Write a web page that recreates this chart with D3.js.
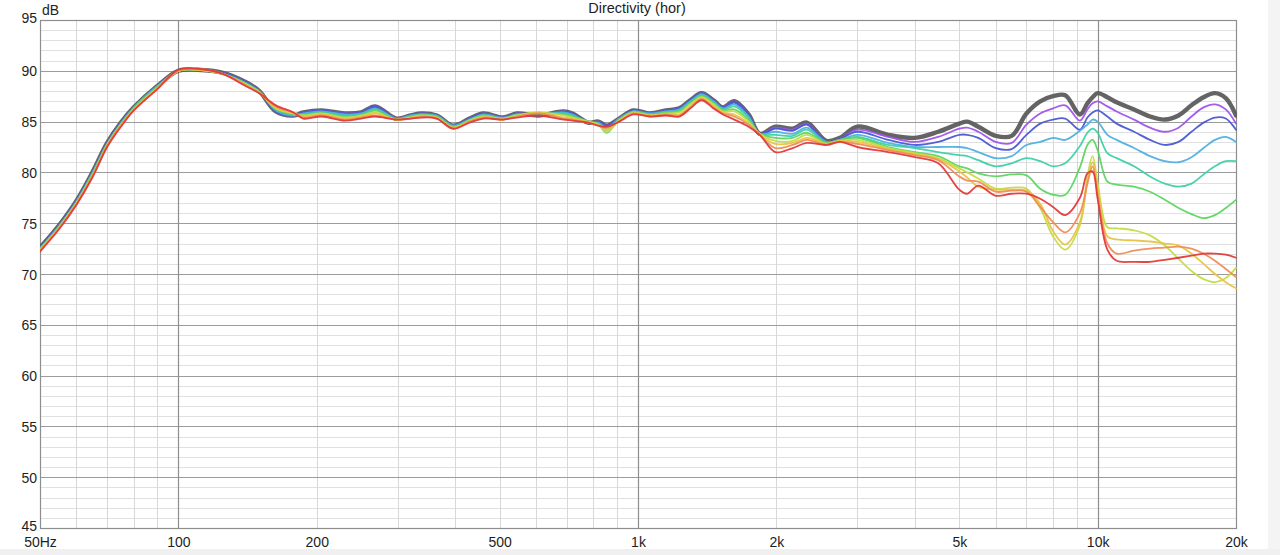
<!DOCTYPE html>
<html><head><meta charset="utf-8">
<script src="https://cdn.jsdelivr.net/npm/d3@7"></script>
<style>
body{margin:0;background:#fff;}
svg{display:block;font-family:"Liberation Sans",Arial,sans-serif;}
</style>
</head><body>
<svg id="chart" width="1280" height="555"></svg>
<script>
// ---- data ----
const freqs=[50,55,60,65,70,75,80,90,100,110, 125,140,150,163,178,187,205,230,250,268,
 298,320,338,365,396,430,461,509,545,607, 688,720,779,820,855,910,977,1062,1150,1230,
 1300,1375,1460,1530,1620,1740,1840,1990,2170,2330, 2570,2750,3000,3500,4000,4500,5000,5200,5500,6000,
 6500,7000,7500,8000,8500,9150,9500,9750,10000,10500, 11000,12000,13000,14000,15000,16000,17000,18000,19000,20000];

const angle0 =[72.6,74.8,77.2,80.0,82.9,84.9,86.4,88.5,90.0,90.1, 89.8,88.9,88.0,86.0,85.6,85.9,86.1,85.8,85.9,86.5,
 85.3,85.6,85.8,85.6,84.6,85.3,85.8,85.4,85.8,85.6, 86.0,85.8,84.9,85.0,84.6,85.3,86.1,85.8,86.1,86.3,
 87.1,87.8,87.1,86.4,87.0,85.7,83.8,84.5,84.3,84.9, 83.1,83.4,84.5,83.7,83.4,84.0,84.8,85.0,84.5,83.6,
 83.6,85.8,87.0,87.5,87.6,85.7,86.8,87.4,87.8,87.4, 86.9,86.2,85.5,85.2,85.6,86.6,87.4,87.8,87.3,85.6];
const angle10=[72.6,74.8,77.2,80.0,82.9,84.9,86.4,88.5,90.0,90.1, 89.8,88.9,88.0,86.0,85.6,85.9,86.1,85.8,85.9,86.5,
 85.3,85.6,85.8,85.6,84.6,85.3,85.8,85.4,85.8,85.6, 86.0,85.8,84.9,85.0,84.6,85.3,86.1,85.8,86.1,86.3,
 87.1,87.8,87.1,86.4,87.0,85.7,83.8,84.4,84.2,84.8, 83.0,83.3,84.2,83.5,83.0,83.5,84.3,84.4,84.0,83.0,
 82.9,84.7,85.8,86.3,86.6,85.1,86.2,86.8,87.0,86.5, 86.0,85.2,84.4,84.0,84.4,85.5,86.4,86.7,86.2,84.8];
const angle20=[72.6,74.8,77.2,80.0,82.9,84.9,86.4,88.5,90.0,90.1, 89.8,88.9,88.0,86.0,85.6,85.9,86.1,85.8,85.9,86.5,
 85.3,85.6,85.8,85.6,84.6,85.3,85.8,85.4,85.8,85.6, 86.0,85.8,84.9,85.0,84.6,85.3,86.1,85.8,86.1,86.3,
 87.1,87.8,87.1,86.4,87.0,85.7,83.8,84.3,84.1,84.7, 83.0,83.3,84.0,83.2,82.7,83.0,83.7,83.7,83.4,82.4,
 82.3,83.7,84.8,85.2,85.3,84.2,85.4,85.9,86.1,85.5, 84.8,84.0,83.2,82.7,83.0,84.0,84.9,85.4,85.3,84.2];
const angle30=[72.5,74.7,77.1,79.9,82.8,84.8,86.4,88.5,90.0,90.1, 89.7,88.8,88.0,86.1,85.6,85.8,86.0,85.7,85.8,86.3,
 85.3,85.6,85.7,85.6,84.6,85.2,85.7,85.4,85.7,85.7, 85.9,85.7,84.9,84.9,84.4,85.3,86.0,85.8,86.0,86.2,
 87.0,87.7,87.0,86.3,86.7,85.5,83.8,84.0,83.8,84.4, 83.0,83.2,83.7,82.9,82.5,82.5,82.5,82.4,82.0,81.4,
 81.6,82.7,83.0,83.4,83.2,84.1,84.7,85.2,85.0,83.7, 83.2,82.4,81.6,81.1,81.0,81.5,82.4,83.2,83.5,83.0];
const angle40=[72.5,74.7,77.1,79.9,82.8,84.8,86.3,88.4,90.0,90.1, 89.7,88.8,87.9,86.2,85.7,85.7,85.9,85.6,85.7,86.2,
 85.2,85.5,85.7,85.5,84.5,85.2,85.6,85.3,85.7,85.7, 85.8,85.6,85.0,84.8,84.2,85.2,86.0,85.7,85.9,86.1,
 86.9,87.6,86.9,86.2,86.5,85.4,83.8,83.7,83.6,84.2, 82.9,83.2,83.5,82.7,82.4,82.0,81.7,81.6,81.2,80.6,
 80.9,81.4,81.1,80.6,80.9,82.6,83.9,84.3,83.9,81.9, 81.4,80.6,79.6,78.9,78.6,78.9,79.8,80.6,81.1,81.1];
const angle50=[72.4,74.6,77.0,79.8,82.7,84.7,86.3,88.4,90.0,90.1, 89.7,88.7,87.9,86.3,85.7,85.6,85.8,85.5,85.6,86.1,
 85.2,85.5,85.6,85.5,84.5,85.1,85.6,85.3,85.6,85.8, 85.7,85.5,85.0,84.7,83.9,85.2,85.9,85.7,85.9,86.0,
 86.8,87.5,86.8,86.1,86.2,85.2,83.8,83.4,83.4,83.9, 82.9,83.2,83.4,82.5,82.0,81.6,80.6,80.4,79.9,79.6,
 79.8,79.7,78.4,77.8,77.8,80.5,82.7,83.2,82.2,79.1, 78.8,78.6,78.1,77.3,76.5,75.9,75.5,75.8,76.5,77.3];
const angle60=[72.4,74.6,77.0,79.7,82.7,84.7,86.2,88.3,90.0,90.1, 89.7,88.7,87.9,86.3,85.8,85.6,85.8,85.4,85.6,85.9,
 85.2,85.4,85.6,85.4,84.4,85.1,85.5,85.3,85.6,85.9, 85.6,85.4,85.0,84.7,84.0,85.1,85.9,85.6,85.8,85.9,
 86.7,87.4,86.7,86.0,86.0,85.0,83.8,83.1,83.1,83.7, 82.8,83.1,83.2,82.4,81.9,81.4,80.4,80.0,79.4,78.4,
 78.5,78.4,76.5,73.7,72.4,74.8,79.6,81.6,79.0,74.6, 74.5,74.3,73.8,72.8,71.5,70.3,69.5,69.2,69.6,70.6];
const angle70=[72.3,74.5,76.9,79.6,82.6,84.6,86.2,88.3,90.0,90.1, 89.7,88.6,87.8,86.4,85.8,85.5,85.7,85.3,85.5,85.8,
 85.2,85.4,85.5,85.4,84.4,85.0,85.4,85.2,85.5,85.9, 85.4,85.3,84.9,84.7,84.2,85.1,85.8,85.6,85.7,85.7,
 86.5,87.3,86.5,85.9,85.7,84.8,83.7,82.8,82.9,83.4, 82.8,83.1,83.0,82.3,81.8,81.3,80.1,79.5,78.6,78.3,
 78.3,78.2,76.9,74.2,72.9,75.1,79.1,81.0,78.5,73.7, 73.4,73.3,73.2,73.0,72.8,72.0,71.0,70.0,69.2,68.6];
const angle80=[72.3,74.5,76.9,79.6,82.6,84.6,86.1,88.2,90.0,90.2, 89.7,88.6,87.8,86.5,85.9,85.4,85.6,85.2,85.4,85.6,
 85.2,85.3,85.5,85.3,84.3,85.0,85.4,85.2,85.5,85.8, 85.3,85.2,84.9,84.6,84.4,85.0,85.8,85.5,85.7,85.6,
 86.4,87.2,86.4,85.8,85.5,84.7,83.7,82.4,82.7,83.2, 82.7,83.0,82.8,82.2,81.7,81.2,79.6,79.2,79.1,78.1,
 78.2,78.1,76.6,75.1,74.1,76.0,78.9,80.6,77.8,73.0, 72.0,72.3,72.5,72.6,72.7,72.5,72.0,71.3,70.5,69.7];
const angle90=[72.2,74.4,76.8,79.5,82.5,84.5,86.1,88.2,90.1,90.2, 89.7,88.5,87.8,86.6,85.9,85.3,85.5,85.1,85.3,85.5,
 85.2,85.3,85.4,85.3,84.3,84.9,85.3,85.2,85.4,85.6, 85.2,85.1,84.9,84.6,84.5,85.0,85.7,85.5,85.6,85.5,
 86.3,87.1,86.3,85.7,85.2,84.5,83.7,82.0,82.4,82.9, 82.7,83.0,82.5,82.0,81.5,80.9,78.3,77.9,78.7,77.7,
 77.9,77.9,77.4,76.6,75.8,77.5,79.9,80.1,77.4,72.4, 71.3,71.2,71.2,71.4,71.6,71.8,72.0,72.0,71.9,71.6];

const seriesNames=["0°","10°","20°","30°","40°","50°","60°","70°","80°","90°"];
const seriesValues=[angle0,angle10,angle20,angle30,angle40,angle50,angle60,angle70,angle80,angle90];

const xTickValues=[50,100,200,500,1000,2000,5000,10000,20000];
const xTickLabels=["50Hz","100","200","500","1k","2k","5k","10k","20k"];
const yTickValues=[45,50,55,60,65,70,75,80,85,90,95];
const chartTitle="Directivity (hor)";
const yUnit="dB";

// ---- styles ----
const seriesColors=["#5c5c5c","#a052ea","#4a58d4","#4fb0e2","#3fd0a6","#5cd660","#c4dc44","#e8c444","#f08c58","#e23a3a"];
const seriesWidths=[4.4,1.8,1.8,1.8,1.8,1.8,1.8,1.8,1.8,1.8];

const W=1280,H=555;
const L=40,R=1236,T=20,B=528;
const svg=d3.select("#chart");

svg.append("rect").attr("x",0).attr("y",0).attr("width",W).attr("height",H).attr("fill","#ffffff");
svg.append("rect").attr("x",0).attr("y",549).attr("width",W).attr("height",H-549).attr("fill","#f0f0f0");
svg.append("rect").attr("x",1268).attr("y",0).attr("width",W-1268).attr("height",549).attr("fill","#f4f4f4");

const x=d3.scaleLog().domain([50,20000]).range([L,R]);
const y=d3.scaleLinear().domain([45,95]).range([B,T]);
const px=v=>Math.round(v)+0.5;

const grid=svg.append("g");
const minorY=d3.range(46,95).filter(v=>v%5!==0);
grid.selectAll(".hmin").data(minorY).enter().append("line")
 .attr("x1",L).attr("x2",R).attr("y1",d=>px(y(d))).attr("y2",d=>px(y(d)))
 .attr("stroke","#e0e0e0").attr("stroke-width",1);
const minorX=[];
[10,100,1000,10000].forEach(dec=>{for(let m=2;m<=9;m++){const f=dec*m; if(f>50&&f<20000&&f!==100&&f!==1000&&f!==10000) minorX.push(f);}});
grid.selectAll(".vmin").data(minorX).enter().append("line")
 .attr("x1",d=>px(x(d))).attr("x2",d=>px(x(d))).attr("y1",T).attr("y2",B)
 .attr("stroke","#d8d8d8").attr("stroke-width",1);
grid.selectAll(".hmaj").data(yTickValues.filter(v=>v>45&&v<95)).enter().append("line")
 .attr("x1",L).attr("x2",R).attr("y1",d=>px(y(d))).attr("y2",d=>px(y(d)))
 .attr("stroke","#9c9c9c").attr("stroke-width",1.2);
grid.selectAll(".vmaj").data([100,1000,10000]).enter().append("line")
 .attr("x1",d=>px(x(d))).attr("x2",d=>px(x(d))).attr("y1",T).attr("y2",B)
 .attr("stroke","#8e8e8e").attr("stroke-width",1.2);
grid.append("rect").attr("x",L+0.5).attr("y",T+0.5).attr("width",R-L).attr("height",B-T)
 .attr("fill","none").attr("stroke","#8e8e8e").attr("stroke-width",1.2);

svg.append("clipPath").attr("id","clip").append("rect")
 .attr("x",L).attr("y",T).attr("width",R-L+1).attr("height",B-T);

const line=d3.line().x(d=>x(d[0])).y(d=>y(d[1])).curve(d3.curveCatmullRom.alpha(0.5));
const plot=svg.append("g").attr("clip-path","url(#clip)");
seriesValues.forEach((vals,i)=>{
  const pts=freqs.map((f,j)=>[f,vals[j]]);
  plot.append("path").datum(pts).attr("d",line)
   .attr("fill","none").attr("stroke",seriesColors[i]).attr("stroke-width",seriesWidths[i])
   .attr("stroke-linejoin","round").attr("stroke-linecap","round")
   .attr("opacity",0.95)
   .append("title").text(seriesNames[i]);
});

const txt="#1e1e1e";
const xAxis=d3.axisBottom(x).tickValues(xTickValues).tickFormat((d,i)=>xTickLabels[i]).tickSize(0).tickPadding(0);
const gx=svg.append("g").attr("transform",`translate(0,${B})`).call(xAxis);
gx.select(".domain").remove();
gx.selectAll("text").attr("y",19).attr("dy",0).attr("fill",txt)
  .style("font-size","14px").style("font-family",'"Liberation Sans",Arial,sans-serif');

const yAxis=d3.axisLeft(y).tickValues(yTickValues).tickFormat(d3.format("d")).tickSize(0).tickPadding(0);
const gy=svg.append("g").attr("transform",`translate(${L-3},0)`).call(yAxis);
gy.select(".domain").remove();
gy.selectAll("text").attr("dy",0).attr("y",d=>d===95?2:(d===45?2:5)).attr("x",0).attr("fill",txt)
  .style("font-size","14px").style("font-family",'"Liberation Sans",Arial,sans-serif');

svg.append("text").attr("x",42).attr("y",15).attr("fill",txt).style("font-size","14px").text(yUnit);
svg.append("text").attr("x",637).attr("y",13).attr("text-anchor","middle").attr("fill",txt)
  .style("font-size","14.5px").text(chartTitle);
</script>
</body></html>
